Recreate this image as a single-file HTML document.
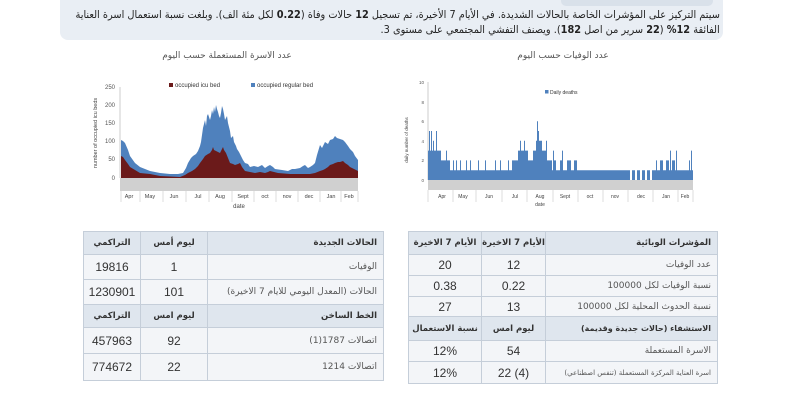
<!DOCTYPE html>
<html><head><meta charset="utf-8"><style>
body{margin:0;width:800px;height:404px;background:#fff;overflow:hidden;position:relative;font-family:"Liberation Sans","DejaVu Sans",sans-serif}
.ban{position:absolute;left:60px;top:-10px;width:663px;height:50px;background:#e9eef4;border-radius:8px}
.tab{position:absolute;left:561px;top:0;width:152px;height:6px;background:#d9e1ea;border-radius:0 0 5px 5px}
.t{position:absolute;right:80px;direction:rtl;white-space:nowrap;font-family:"DejaVu Sans",sans-serif;font-size:10.5px;color:#222;transform-origin:right center}
table{position:absolute;border-collapse:collapse;font-family:"Liberation Sans","DejaVu Sans",sans-serif;color:#333}
td{border:1px solid #c5ced9;background:#f3f5f8;text-align:center;font-size:12px;padding:0}
td.l{text-align:right;padding-right:6px;font-family:"DejaVu Sans",sans-serif;font-size:9px;color:#555;white-space:nowrap}
tr.h td{background:#dfe6ee;font-weight:bold;font-family:"DejaVu Sans",sans-serif;font-size:8.5px;color:#333}
</style></head><body>
<div class="ban"></div><div class="tab"></div>
<div class="t" style="top:9px;transform:scaleX(0.93)">سيتم التركيز على المؤشرات الخاصة بالحالات الشديدة. في الأيام 7 الأخيرة، تم تسجيل <b>12</b> حالات وفاة (<b>0.22</b> لكل مئة الف). وبلغت نسبة استعمال اسرة العناية</div>
<div class="t" style="top:24px;transform:scaleX(0.93)">الفائقة <b>12%</b> (<b>22</b> سرير من اصل <b>182</b>). ويصنف التفشي المجتمعي على مستوى 3.</div>

<svg width="800" height="230" style="position:absolute;left:0;top:0" font-family="Liberation Sans, DejaVu Sans, sans-serif">
<text x="227" y="58" font-size="9" fill="#555" text-anchor="middle" font-family="DejaVu Sans">عدد الاسرة المستعملة حسب اليوم</text>
<text x="563" y="58" font-size="9" fill="#555" text-anchor="middle" font-family="DejaVu Sans">عدد الوفيات حسب اليوم</text>
<g font-size="6" fill="#555" text-anchor="end">
<text x="115" y="89">250</text><text x="115" y="107">200</text><text x="115" y="125">150</text><text x="115" y="143">100</text><text x="115" y="161">50</text><text x="115" y="180">0</text>
</g>
<text transform="translate(97,133) rotate(-90)" font-size="5.5" fill="#444" text-anchor="middle">number of occupied icu beds</text>
<line x1="120" y1="87" x2="120" y2="178" stroke="#aaa" stroke-width="0.6"/>
<polygon fill="#4f81bd" points="121,178 121,140 123,141 125,143 128,150 130,156 135,163 140,167 145,169 150,171 160,173 170,174 178,174 183,173 186,168 188,163 191,158 193,156 196,154 198,151 200,146 201,142 203,128 205,120 206,126 207,116 208,114 210,120 211,116 212,110 213,114 214,107 215,112 216,105 217,109 218,112 219,116 220,118 221,113 222,106 223,109 224,114 225,120 227,116 228,123 230,131 231,138 233,136 234,142 236,146 237,149 239,152 241,156 243,160 245,163 248,164 250,167 254,166 258,167 262,165 265,168 268,166 270,165 273,167 275,169 282,170 288,171 292,169 295,169 300,168 303,166 305,165 308,168 310,167 313,165 315,163 317,155 320,145 322,148 325,142 328,144 330,140 333,139 335,136 337,138 340,139 343,140 345,142 348,146 350,149 353,152 355,156 358,160 358,178"/>
<polygon fill="#6b1a1a" points="121,178 121,156 123,157 125,160 128,164 130,167 135,170 140,173 150,174 160,176 180,177 185,175 188,173 192,171 195,169 198,166 200,163 203,159 205,156 208,154 210,153 212,150 213,147 214,150 216,151 218,152 220,153 222,149 223,147 224,150 226,153 228,158 230,163 233,164 235,165 238,164 240,163 242,167 245,171 250,172 255,173 260,172 265,173 268,172 270,171 274,172 278,173 290,174 300,174 310,174 315,173 320,171 323,170 325,169 328,167 330,165 333,164 335,163 338,162 340,162 343,161 345,163 348,165 350,167 354,169 358,171 358,178"/>
<rect x="120" y="178" width="238" height="13" fill="#d0d0d0"/>
<g id="lmon" font-size="5.5" fill="#444" text-anchor="middle"></g>
<text x="239" y="208" font-size="6" fill="#444" text-anchor="middle">date</text>
<rect x="169" y="83" width="4" height="4" fill="#6b1a1a"/><text x="175" y="87" font-size="6" fill="#333">occupied icu bed</text>
<rect x="251" y="83" width="4" height="4" fill="#4f81bd"/><text x="257" y="87" font-size="6" fill="#333">occupied regular bed</text>

<g font-size="4.5" fill="#555" text-anchor="end">
<text x="424" y="84">10</text><text x="424" y="104">8</text><text x="424" y="123">6</text><text x="424" y="143">4</text><text x="424" y="162">2</text><text x="424" y="182">0</text>
</g>
<text transform="translate(408,140) rotate(-90)" font-size="4.5" fill="#444" text-anchor="middle">daily number of deaths</text>
<line x1="428" y1="82" x2="428" y2="180" stroke="#aaa" stroke-width="0.6"/>
<path id="bars" fill="#4f81bd"/>
<rect x="428" y="180" width="265" height="10" fill="#d0d0d0"/>
<g id="rmon" font-size="5" fill="#444" text-anchor="middle"></g>
<text x="540" y="206" font-size="5" fill="#444" text-anchor="middle">date</text>
<rect x="545" y="90" width="3.5" height="3.5" fill="#4f81bd"/><text x="550" y="94" font-size="5" fill="#333">Daily deaths</text>
</svg>

<table style="left:83px;top:231px;width:301px;height:150px">
<tr class="h" style="height:23px"><td style="width:56px">التراكمي</td><td style="width:66px">ليوم أمس</td><td class="l" style="font-weight:bold;color:#333;font-size:8.5px">الحالات الجديدة</td></tr>
<tr style="height:25px"><td>19816</td><td>1</td><td class="l">الوفيات</td></tr>
<tr style="height:25px"><td>1230901</td><td>101</td><td class="l">الحالات (المعدل اليومي للايام 7 الاخيرة)</td></tr>
<tr class="h" style="height:23px"><td>التراكمي</td><td>ليوم امس</td><td class="l" style="font-weight:bold;color:#333;font-size:8.5px">الخط الساخن</td></tr>
<tr style="height:26px"><td>457963</td><td>92</td><td class="l">اتصالات 1787(1)</td></tr>
<tr style="height:27px"><td>774672</td><td>22</td><td class="l">اتصالات 1214</td></tr>
</table>

<table style="left:408px;top:231px;width:310px;height:152px">
<tr class="h" style="height:23px"><td style="width:72px">الأيام 7 الاخيرة</td><td style="width:63px">الأيام 7 الاخيرة</td><td class="l" style="font-weight:bold;color:#333;font-size:8.5px">المؤشرات الوبائية</td></tr>
<tr style="height:21px"><td>20</td><td>12</td><td class="l">عدد الوفيات</td></tr>
<tr style="height:21px"><td>0.38</td><td>0.22</td><td class="l">نسبة الوفيات لكل 100000</td></tr>
<tr style="height:20px"><td>27</td><td>13</td><td class="l">نسبة الحدوث المحلية لكل 100000</td></tr>
<tr class="h" style="height:24px"><td>نسبة الاستعمال</td><td>ليوم امس</td><td class="l" style="font-weight:bold;color:#333;font-size:8px">الاستشفاء (حالات جديدة وقديمة)</td></tr>
<tr style="height:21px"><td>12%</td><td>54</td><td class="l">الاسرة المستعملة</td></tr>
<tr style="height:22px"><td>12%</td><td>22 (4)</td><td class="l" style="font-size:7px">اسرة العناية المركزة المستعملة (تنفس اصطناعي)</td></tr>
</table>

<script>
var lm=[["Apr",129],["May",150],["Jun",174],["Jul",198],["Aug",220],["Sept",243],["oct",265],["nov",287],["dec",309],["Jan",331],["Feb",349]];
var g=document.getElementById("lmon"),s="";
lm.forEach(function(m){s+='<text x="'+m[1]+'" y="198">'+m[0]+'</text>';});
[121,140,163,186,209,232,254,276,298,320,341,358].forEach(function(x){s+='<line x1="'+x+'" y1="191" x2="'+x+'" y2="202" stroke="#bbb" stroke-width="0.5"/>';});
g.innerHTML=s;
var rm=[["Apr",442],["May",463],["Jun",489],["Jul",515],["Aug",540],["Sept",565],["oct",590],["nov",615],["dec",641],["Jan",666],["Feb",685]];
g=document.getElementById("rmon");s="";
rm.forEach(function(m){s+='<text x="'+m[1]+'" y="198">'+m[0]+'</text>';});
[428,453,476,502,527,553,578,603,628,653,678,693].forEach(function(x){s+='<line x1="'+x+'" y1="190" x2="'+x+'" y2="202" stroke="#bbb" stroke-width="0.5"/>';});
g.innerHTML=s;
function dv(x){var v;
if(x<441)v=3;else if(x<450)v=2;else if(x<512)v=1;else if(x<518)v=2;else if(x<528)v=3;else if(x<533)v=2;else if(x<536)v=3;else if(x<542)v=4;else if(x<547)v=3;else if(x<552)v=2;else if(x<578)v=(x%7<3)?2:1;else if(x<628)v=1;else if(x<653)v=(x%5<2)?0:1;else if(x<660)v=1;else if(x<678)v=(x%6<3)?2:1;else v=1;
var sp={429:5,431:5,433:4,436:5,446:3,453:2,456:2,460:2,466:2,470:2,478:2,485:2,495:2,500:2,508:2,520:4,524:4,537:6,538:5,546:4,553:3,562:3,570:2,600:1,656:2,670:3,676:3,689:2,691:3};
if(sp[x]!==undefined)v=sp[x];return v;}
var d="";for(var x=428;x<693;x++){var v=dv(x);if(v>0)d+="M"+x+",180 h1 v"+(-v*9.8).toFixed(1)+" h-1 Z ";}
document.getElementById("bars").setAttribute("d",d);
</script>
</body></html>
